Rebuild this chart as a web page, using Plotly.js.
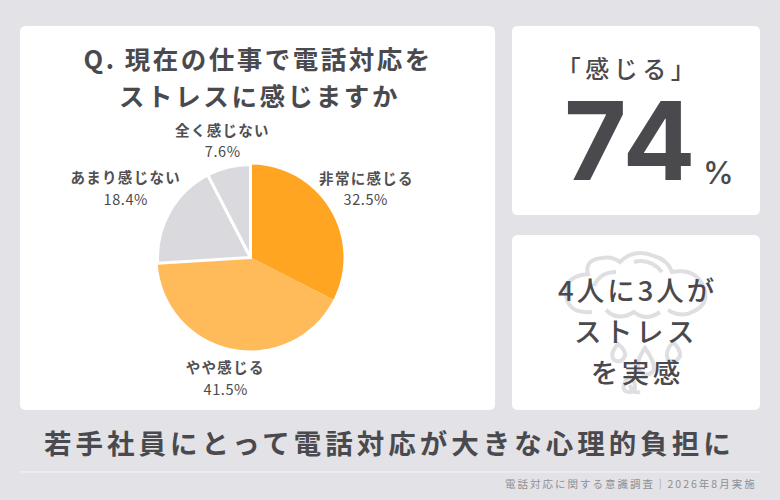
<!DOCTYPE html>
<html><head><meta charset="utf-8">
<script src="https://cdn.plot.ly/plotly-3.0.1.min.js"></script>
<style>html,body{margin:0;padding:0;background:#e3e2e6}#c{width:780px;height:500px}</style>
</head><body><div id="c"></div>
<script>
const categories = ['非常に感じる','やや感じる','あまり感じない','全く感じない'];
const shares = [32.5,41.5,18.4,7.6];
const sliceColors = ['#ffa522','#ffbb5a','#dad9dd','#dad9dd'];
const sliceEdges = [0,0,3,3];
const titleLines = ['Q. 現在の仕事で電話対応を','ストレスに感じますか'];
const W=780,H=500,F='"Noto Sans CJK JP","Noto Sans",sans-serif',INK='#4a4a4e';
const fx=x=>(x/W).toFixed(5), fy=y=>(1-y/H).toFixed(5);
function card(x0,y0,x1,y1,r){
  const P=(x,y)=>fx(x)+','+fy(y);
  return {type:'path',xref:'paper',yref:'paper',layer:'below',fillcolor:'#fff',line:{width:0},
    path:`M${P(x0+r,y0)} L${P(x1-r,y0)} Q${P(x1,y0)} ${P(x1,y0+r)} L${P(x1,y1-r)} Q${P(x1,y1)} ${P(x1-r,y1)} L${P(x0+r,y1)} Q${P(x0,y1)} ${P(x0,y1-r)} L${P(x0,y0+r)} Q${P(x0,y0)} ${P(x0+r,y0)} Z`};
}
function deco(d){ // decorative cloud strokes, given in page pixels
  const s=d.replace(/(-?[\d.]+),(-?[\d.]+)/g,(m,a,b)=>fx(+a)+','+fy(+b));
  return {type:'path',xref:'paper',yref:'paper',layer:'below',fillcolor:'rgba(0,0,0,0)',line:{color:'#dfdee1',width:4},path:s};
}
const cloud=[
 'M592,312 Q566,314 566,292 Q566,276 588,274 Q584,260 602,258 Q612,256 620,262 Q634,248 654,256 Q668,260 672,272 Q694,268 702,284 Q712,304 692,312 Q682,318 668,310',
 'M594,286 Q600,272 616,272','M634,262 Q650,258 662,272','M606,310 Q618,322 634,312 Q646,322 660,312',
 'M618,344 Q609,354 614,360 Q621,364 625,356 Q626,350 618,344 Z',
 'M645,348 Q634,364 640,372 Q648,378 654,370 Q655,362 645,348 Z',
 'M673,342 Q664,352 668,360 Q676,364 680,356 Q681,350 673,342 Z',
 'M629,376 Q621,386 625,391 Q632,394 635,388 Q636,382 629,376 Z',
 'M630,385 Q632,394 640,392'
].map(deco);
const shapes=[card(20,26,495,410,6),card(512,26,760,215,6),card(512,235,760,410,6),...cloud,
 {type:'line',xref:'paper',yref:'paper',x0:fx(20),x1:fx(760),y0:fy(472),y1:fy(472),line:{color:'#f4f4f5',width:1}}];
const spacings=[];
function T(text,x,y,size,opt={}){
  spacings.push(opt.s||0);
  return Object.assign({text,xref:'paper',yref:'paper',x:fx(x),y:fy(y),showarrow:false,xanchor:'center',yanchor:'middle',align:opt.al||'center',
    font:{family:opt.f||F,size,color:opt.c||INK,weight:opt.w||500}},opt.a||{});
}
const sliceLabelPos=[[366.5,177,198],[226,366,388],[126,176,198],[222,129,150]];
const anns=[
 T(titleLines[0],257.5,58,25.5,{s:2.5,w:700}), T(titleLines[1],260,95,25.5,{s:2.6,w:700}),
 ...categories.flatMap((c,i)=>[
   T(c,sliceLabelPos[i][0],sliceLabelPos[i][1],14.5,{s:1.3,w:700,c:'#505054'}),
   T(shares[i].toFixed(1)+'%',sliceLabelPos[i][0],sliceLabelPos[i][2],14.5,{s:0.6,w:400})]),
 T('「感じる」',628,67,24,{s:4.5}),
 T('74',631,140,108,{f:'Inter',w:700,s:2}),
 T('%',719,172,31,{f:'Inter',w:500}),
 T('4人に3人が',637.5,289,27.5,{s:3}), T('ストレス',636,330,27.5,{s:3.5}), T('を実感',637,371,27.5,{s:3.5}),
 T('若手社員にとって電話対応が大きな心理的負担に',389,442,27.5,{s:4,w:700}),
 T('電話対応に関する意識調査｜2026年8月実施',758.5,483,10.5,{s:2,w:400,c:'#8f8f93',al:'right',a:{xanchor:'right'}})
];
Plotly.newPlot('c',[{type:'pie',labels:categories,values:shares,sort:false,direction:'clockwise',rotation:0,
  textinfo:'none',hoverinfo:'none',showlegend:false,
  marker:{colors:sliceColors,line:{color:'#fff',width:sliceEdges}},
  domain:{x:[157.5/W,343.5/W],y:[1-350.5/H,1-164.5/H]}}],
 {width:W,height:H,margin:{l:0,r:0,t:0,b:0,pad:0},paper_bgcolor:'#e3e2e6',plot_bgcolor:'rgba(0,0,0,0)',showlegend:false,shapes,annotations:anns},
 {displayModeBar:false,staticPlot:true}).then(()=>{
   document.querySelectorAll('.annotation-text').forEach((el,i)=>{el.style.letterSpacing=spacings[i]+'px';});
 });
</script></body></html>
